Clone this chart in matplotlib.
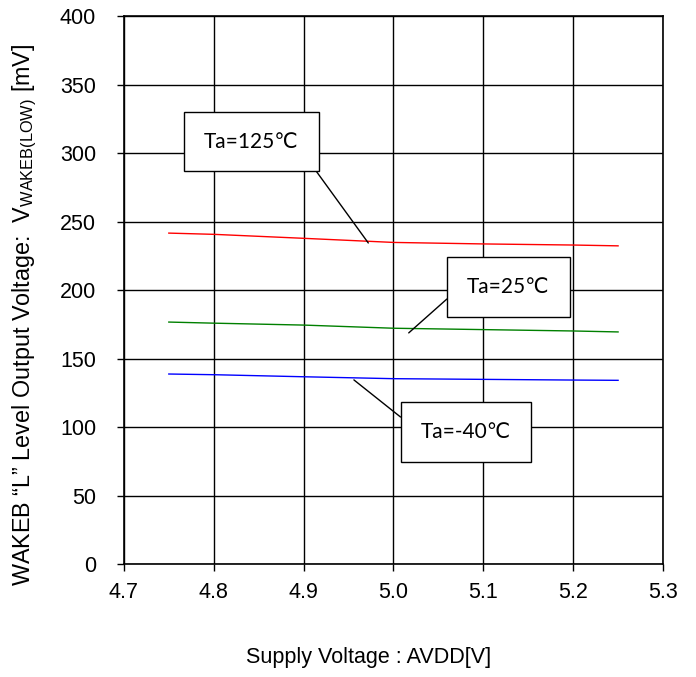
import numpy as np
import matplotlib
matplotlib.use("Agg")
import matplotlib.pyplot as plt

# supply voltage points [V]
avdd = [4.75, 4.8, 4.9, 5.0, 5.1, 5.2, 5.25]

# WAKEB "L" output voltage [mV]
v_125 = [241.6, 240.7, 237.8, 234.8, 233.7, 232.9, 232.3]
v_25 = [176.7, 175.9, 174.5, 172.2, 171.2, 170.2, 169.5]
v_m40 = [138.8, 138.3, 136.8, 135.4, 134.9, 134.4, 134.2]

labels = ["Ta=125\u2103", "Ta=25\u2103", "Ta=-40\u2103"]
colors = ["#ff0000", "#008000", "#0000ff"]

xticks = [4.7, 4.8, 4.9, 5.0, 5.1, 5.2, 5.3]
yticks = [0, 50, 100, 150, 200, 250, 300, 350, 400]

plt.rcParams['font.family'] = ['Liberation Sans', 'DejaVu Sans']
plt.rcParams['mathtext.fontset'] = 'custom'
plt.rcParams['mathtext.rm'] = 'Liberation Sans'

fig = plt.figure(figsize=(6.96, 6.77), dpi=100)
ax = fig.add_axes([0.178, 0.1665, 0.7746, 0.8099])

for ys, c in zip([v_125, v_25, v_m40], colors):
    ax.plot(avdd, ys, color=c, lw=1.0)

ax.set_xlim(4.7, 5.3)
ax.set_ylim(0, 400)
ax.set_xticks(xticks)
ax.set_xticklabels(["%.1f" % x for x in xticks])
ax.set_yticks(yticks)
ax.grid(True, color="black", lw=1.0)
ax.set_axisbelow(True)
for s in ax.spines.values():
    s.set_linewidth(1.2)
    s.set_color("black")
ax.tick_params(direction="out", length=5, width=1.0, labelsize=15.5)
ax.tick_params(axis="x", pad=8)
ax.tick_params(axis="y", pad=15)

ax.set_xlabel("Supply Voltage : AVDD[V]", fontsize=15.5)
ax.xaxis.set_label_coords(0.4545, -0.15)
ax.set_ylabel("WAKEB \u201cL\u201d Level Output Voltage:  V$_{\\mathregular{WAKEB(LOW)}}$ [mV]",
              fontsize=16.8)
ax.yaxis.set_label_coords(-0.158, 0.4547)

# callouts: text position (axes fraction), target point (data), leader start on box
boxes = [(0.2365, 0.771), (0.7134, 0.5057), (0.6345, 0.2413)]
targets = [(4.972, 234.4), (5.017, 168.8), (4.956, 134.5)]
relpos = [(1.0, 0.22), (0.0, 0.8), (0.0, 0.44)]

for lab, bxy, txy, rp in zip(labels, boxes, targets, relpos):
    ax.annotate(lab, xy=txy, xycoords="data", xytext=bxy, textcoords="axes fraction",
                ha="center", va="center", fontsize=15,
                family=['Lato', 'DejaVu Sans'],
                bbox=dict(boxstyle="square,pad=0.95", fc="white", ec="black", lw=1.0),
                arrowprops=dict(arrowstyle="-", color="black", lw=1.0, relpos=rp,
                                shrinkA=0, shrinkB=0))

fig.savefig("out.png", dpi=100)
